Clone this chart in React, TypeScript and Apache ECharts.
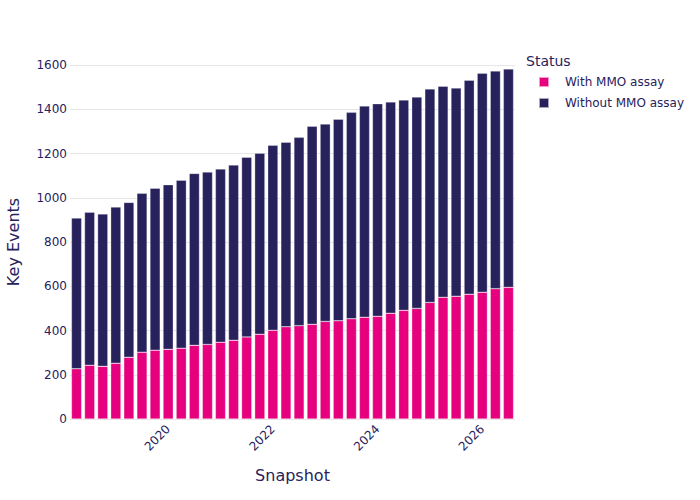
import React, { useEffect, useRef } from "react";
import * as echarts from "echarts";

const snapshots = [
  "2018-04", "2018-07", "2018-10",
  "2019-01", "2019-04", "2019-07", "2019-10",
  "2020-01", "2020-04", "2020-07", "2020-10",
  "2021-01", "2021-04", "2021-07", "2021-10",
  "2022-01", "2022-04", "2022-07", "2022-10",
  "2023-01", "2023-04", "2023-07", "2023-10",
  "2024-01", "2024-04", "2024-07", "2024-10",
  "2025-01", "2025-04", "2025-07", "2025-10",
  "2026-01", "2026-04", "2026-07",
];

const tickYears = ["2020", "2022", "2024", "2026"];

const withMMO = [
  227, 243, 238, 252, 279, 302, 311, 315, 320, 333, 337, 347, 356, 371, 383, 401, 417,
  422, 428, 441, 444, 453, 460, 464, 478, 491, 500, 527, 550, 555, 564, 573, 589, 595,
];

const withoutMMO = [
  681, 692, 689, 706, 700, 718, 732, 744, 759, 777, 779, 783, 792, 812, 818, 836, 834,
  851, 895, 892, 911, 933, 955, 961, 955, 951, 955, 965, 954, 941, 967, 990, 984, 987,
];

const seriesNames = ["With MMO assay", "Without MMO assay"];
const TEXT = "#28225C";
const FONT = "DejaVu Sans";

export default function App() {
  const ref = useRef<HTMLDivElement>(null);
  useEffect(() => {
    if (!ref.current) return;
    const chart = echarts.init(ref.current, undefined, { renderer: "svg" });
    const isTick = (idx: number) => {
      const s = snapshots[idx];
      return s.endsWith("-01") && tickYears.includes(s.slice(0, 4));
    };
    chart.setOption({
      animation: false,
      textStyle: { fontFamily: FONT, color: TEXT },
      title: {
        text: "Status",
        left: 526,
        top: 54,
        padding: 0,
        textStyle: { fontFamily: FONT, fontSize: 14, fontWeight: "normal", color: TEXT },
      },
      legend: {
        orient: "vertical",
        left: 538,
        top: 76,
        padding: 0,
        itemWidth: 10,
        itemHeight: 10,
        itemGap: 9,
        icon: "rect",
        data: seriesNames,
        textStyle: { fontFamily: FONT, fontSize: 12, color: TEXT, padding: [0, 0, 0, 11] },
      },
      grid: {
        left: 70,
        right: 185,
        top: 65,
        bottom: 81,
        containLabel: false,
        outerBoundsMode: "none",
      },
      xAxis: {
        type: "category",
        data: snapshots,
        name: "Snapshot",
        nameLocation: "middle",
        nameGap: 48,
        nameTextStyle: { fontFamily: FONT, fontSize: 16, color: TEXT },
        axisLine: { show: false },
        axisTick: { show: false },
        axisLabel: {
          interval: (idx: number) => isTick(idx),
          formatter: (v: string) => v.slice(0, 4),
          rotate: 45,
          margin: 8,
          fontFamily: FONT,
          fontSize: 12,
          color: TEXT,
        },
        splitLine: { show: false },
      },
      yAxis: {
        type: "value",
        min: 0,
        max: 1600,
        interval: 200,
        name: "Key Events",
        nameLocation: "middle",
        nameGap: 49,
        nameTextStyle: { fontFamily: FONT, fontSize: 16, color: TEXT },
        axisLine: { show: false },
        axisTick: { show: false },
        axisLabel: {
          margin: 3,
          fontFamily: FONT,
          fontSize: 12,
          color: TEXT,
          formatter: (v: number) => String(v),
        },
        splitLine: { lineStyle: { color: "#e6e6e6", width: 1 } },
      },
      series: [
        {
          name: seriesNames[0],
          type: "bar",
          stack: "total",
          data: withMMO,
          barWidth: "78%",
          itemStyle: { color: "#E6007E", borderColor: "rgba(255,255,255,0.6)", borderWidth: 0.5 },
        },
        {
          name: seriesNames[1],
          type: "bar",
          stack: "total",
          data: withoutMMO,
          barWidth: "78%",
          itemStyle: { color: "#28225C", borderColor: "rgba(255,255,255,0.6)", borderWidth: 0.5 },
        },
      ],
    });
    return () => chart.dispose();
  }, []);
  return (
    <div
      ref={ref}
      style={{ position: "fixed", left: 0, top: 0, width: 700, height: 500, background: "#fff" }}
    />
  );
}
